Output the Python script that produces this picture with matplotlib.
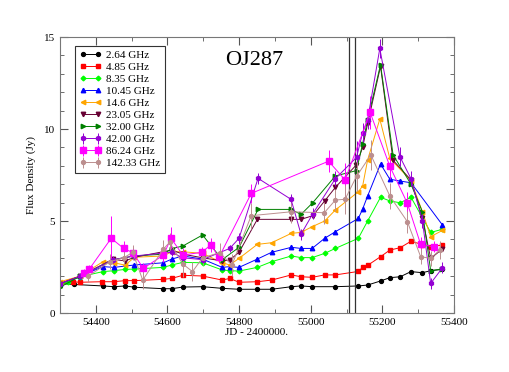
import matplotlib
matplotlib.use("Agg")
import matplotlib.pyplot as plt
from matplotlib.ticker import MultipleLocator

plt.rcParams['font.family'] = ['Liberation Serif', 'DejaVu Serif']

# 2.64 GHz
jd_264 = [54300, 54340, 54420, 54451, 54482, 54508, 54589, 54612, 54643, 54698, 54753, 54800,
          54851, 54891, 54946, 54973, 55004, 55069, 55133, 55159, 55195, 55221, 55250, 55280,
          55312, 55335, 55368]
f_264 = [1.60, 1.55, 1.47, 1.43, 1.47, 1.40, 1.32, 1.32, 1.41, 1.43, 1.34, 1.29,
         1.29, 1.29, 1.43, 1.47, 1.43, 1.43, 1.47, 1.52, 1.74, 1.92, 1.97, 2.25,
         2.19, 2.30, 2.37]

# 4.85 GHz
jd_485 = [54300, 54336, 54355, 54416, 54451, 54482, 54508, 54589, 54612, 54643, 54698, 54753,
          54774, 54800, 54851, 54891, 54946, 54973, 55004, 55039, 55069, 55133, 55145, 55159,
          55195, 55221, 55250, 55280, 55312, 55335, 55368]
f_485 = [1.60, 1.70, 1.67, 1.70, 1.70, 1.76, 1.76, 1.83, 1.88, 2.05, 2.01, 1.79,
         1.88, 1.67, 1.70, 1.79, 2.07, 1.97, 1.94, 2.07, 2.07, 2.26, 2.48, 2.59,
         3.06, 3.42, 3.55, 3.90, 3.72, 3.60, 3.70]

# 8.35 GHz
jd_835 = [54300, 54323, 54356, 54420, 54451, 54482, 54508, 54589, 54612, 54643, 54698, 54753,
          54774, 54800, 54851, 54891, 54946, 54973, 55004, 55039, 55069, 55133, 55159, 55195,
          55221, 55250, 55280, 55335, 55368]
f_835 = [1.50, 1.70, 1.97, 2.25, 2.30, 2.37, 2.39, 2.48, 2.61, 2.75, 2.73, 2.34,
         2.30, 2.28, 2.48, 2.79, 3.10, 3.01, 3.01, 3.24, 3.51, 4.06, 5.00, 6.29,
         6.09, 5.99, 6.29, 4.38, 4.55]

# 10.45 GHz
jd_1045 = [54300, 54356, 54420, 54451, 54508, 54589, 54612, 54643, 54698, 54753, 54774, 54800,
           54851, 54891, 54946, 54973, 55004, 55039, 55069, 55133, 55145, 55159, 55195, 55221,
           55250, 55280, 55368]
f_1045 = [1.60, 2.00, 2.52, 2.48, 2.61, 2.73, 2.93, 3.10, 2.93, 2.48, 2.52, 2.48,
          2.93, 3.30, 3.57, 3.51, 3.51, 4.06, 4.42, 5.14, 5.65, 6.36, 8.10, 7.27,
          7.17, 7.08, 4.78]

# 14.6 GHz
jd_146 = [54300, 54356, 54420, 54451, 54482, 54508, 54589, 54612, 54643, 54698, 54753, 54774,
          54800, 54851, 54891, 54946, 54973, 55004, 55039, 55069, 55133, 55145, 55159, 55193,
          55221, 55280, 55312, 55335, 55368]
f_146 = [1.70, 2.00, 2.79, 2.73, 2.60, 3.03, 3.10, 3.33, 3.33, 3.24, 2.73, 2.61,
         2.97, 3.73, 3.82, 4.33, 4.38, 4.69, 5.00, 5.60, 6.59, 6.90, 8.32, 10.54,
         8.40, 7.20, 5.50, 4.15, 4.49]

# 23.05 GHz
jd_2305 = [54300, 54356, 54448, 54482, 54508, 54612, 54643, 54698, 54753, 54774, 54800, 54851,
           54945, 54973, 55006, 55039, 55069, 55127, 55145, 55159, 55195, 55230, 55280, 55312,
           55335, 55368]
f_2305 = [1.60, 2.00, 2.92, 2.83, 3.03, 3.42, 3.20, 3.00, 2.83, 2.88, 3.30, 5.09,
          5.09, 5.09, 5.29, 6.09, 6.83, 8.04, 9.00, 10.30, 13.40, 8.30, 7.23, 5.14,
          2.97, 3.48]

# 32.00 GHz
jd_32 = [54300, 54356, 54448, 54508, 54589, 54612, 54643, 54698, 54753, 54800, 54853, 54945,
         54973, 55006, 55069, 55128, 55145, 55159, 55195, 55230, 55280, 55312, 55335, 55368]
f_32 = [1.40, 2.00, 2.90, 3.10, 3.20, 3.50, 3.64, 4.24, 2.90, 3.57, 5.63, 5.63,
        5.36, 6.00, 7.45, 7.74, 9.20, 10.50, 13.50, 8.60, 7.00, 5.50, 2.30, 2.40]

# 42.00 GHz
jd_42 = [54300, 54356, 54448, 54508, 54612, 54643, 54698, 54774, 54800, 54853, 54945, 54973,
         55006, 55069, 55128, 55145, 55159, 55193, 55249, 55280, 55312, 55335, 55368]
f_42 = [1.60, 2.00, 2.90, 3.10, 3.30, 3.00, 2.90, 3.51, 4.06, 7.32, 6.18, 4.28,
        5.40, 7.30, 8.46, 9.80, 10.50, 14.38, 8.50, 7.30, 5.00, 1.61, 2.46]
e_42 = [0.1, 0.1, 0.2, 0.2, 0.2, 0.2, 0.2, 0.2, 0.3, 0.3, 0.3, 0.3,
        0.3, 0.4, 0.9, 0.5, 0.5, 0.5, 0.5, 0.4, 0.4, 0.3, 0.3]

# 86.24 GHz
jd_86 = [54367, 54382, 54443, 54478, 54503, 54533, 54589, 54610, 54643, 54696, 54721, 54744,
         54834, 55050, 55096, 55166, 55221, 55270, 55307, 55343]
f_86 = [2.19, 2.39, 4.06, 3.51, 3.28, 2.43, 3.15, 4.06, 3.15, 3.30, 3.70, 3.03,
        6.50, 8.25, 7.23, 10.90, 7.97, 5.96, 3.73, 3.60]
e_86 = [0.2, 0.2, 1.2, 0.4, 0.3, 0.3, 0.4, 0.6, 0.4, 0.3, 0.4, 0.3,
        0.5, 0.6, 0.9, 0.9, 0.7, 0.6, 0.4, 0.3]

# 142.33 GHz
jd_142 = [54379, 54439, 54478, 54503, 54531, 54589, 54606, 54643, 54670, 54698, 54746, 54780,
          54834, 54945, 55038, 55069, 55096, 55128, 55168, 55221, 55270, 55307, 55335, 55360]
f_142 = [2.00, 2.79, 3.00, 3.30, 1.79, 3.48, 3.84, 2.66, 2.25, 3.00, 3.28, 2.60,
         5.29, 5.50, 5.45, 6.14, 6.18, 7.43, 8.59, 6.36, 4.96, 3.06, 2.97, 3.42]
e_142 = [0.3, 0.4, 0.4, 0.4, 0.5, 0.5, 0.5, 0.7, 0.5, 0.4, 0.5, 0.6,
         0.7, 0.6, 0.6, 0.6, 0.8, 0.8, 0.8, 0.7, 0.6, 0.4, 0.4, 0.5]

vlines_jd = [55108, 55125]

fig = plt.figure(figsize=(5.1, 3.72), dpi=100)
ax = fig.add_axes([0.1176, 0.1586, 0.7725, 0.7419])

ax.plot(jd_264, f_264, '-o', color='black', lw=0.7, ms=2.8, label='2.64 GHz')
ax.plot(jd_485, f_485, '-s', color='#ff0000', lw=0.7, ms=2.8, label='4.85 GHz')
ax.plot(jd_835, f_835, '-D', color='#00ff00', lw=0.7, ms=2.4, label='8.35 GHz')
ax.plot(jd_1045, f_1045, '-^', color='#0000ff', lw=0.7, ms=3.2, label='10.45 GHz')
ax.plot(jd_146, f_146, '-<', color='#ffa500', lw=0.7, ms=3.2, label='14.6 GHz')
ax.plot(jd_2305, f_2305, '-v', color='#670033', lw=0.7, ms=3.2, label='23.05 GHz')
ax.plot(jd_32, f_32, '->', color='#008000', lw=0.7, ms=3.2, label='32.00 GHz')
ax.errorbar(jd_42, f_42, yerr=e_42, fmt='-h', color='#9400d3', lw=0.7, elinewidth=0.7,
            ms=3.2, label='42.00 GHz')
ax.errorbar(jd_86, f_86, yerr=e_86, fmt='-s', color='#ff00ff', lw=0.7, elinewidth=0.7,
            ms=4.2, label='86.24 GHz')
ax.errorbar(jd_142, f_142, yerr=e_142, fmt='-o', color='#bc8f8f', lw=0.7, elinewidth=0.7,
            ms=2.8, label='142.33 GHz')

for v in vlines_jd:
    ax.axvline(v, color='#333333', lw=0.9)

ax.text(54842, 13.7, 'OJ287', fontsize=16, ha='center', va='center')

ax.set_xlim(54300, 55400)
ax.set_ylim(0, 15)
ax.xaxis.set_major_locator(MultipleLocator(200))
ax.xaxis.set_minor_locator(MultipleLocator(100))
ax.yaxis.set_major_locator(MultipleLocator(5))
ax.yaxis.set_minor_locator(MultipleLocator(1))
ax.tick_params(which='both', direction='in', top=True, right=True, labelsize=8, colors='#555555',
               labelcolor='black')
ax.tick_params(which='major', length=6)
ax.tick_params(which='minor', length=3)
for sp in ax.spines.values():
    sp.set_color('#777777')

ax.set_xlabel('JD - 2400000.', fontsize=8, labelpad=1)
ax.set_ylabel('Flux Density (Jy)', fontsize=8, labelpad=6)

leg = ax.legend(loc='upper left', bbox_to_anchor=(0.038, 0.967), borderaxespad=0, fontsize=8,
                numpoints=2, handlelength=2.0, labelspacing=0.2, borderpad=0.4,
                handletextpad=0.4, fancybox=False, framealpha=1)
leg.get_frame().set_edgecolor('#333333')
leg.get_frame().set_linewidth(0.8)

fig.savefig('out.png', dpi=100)
